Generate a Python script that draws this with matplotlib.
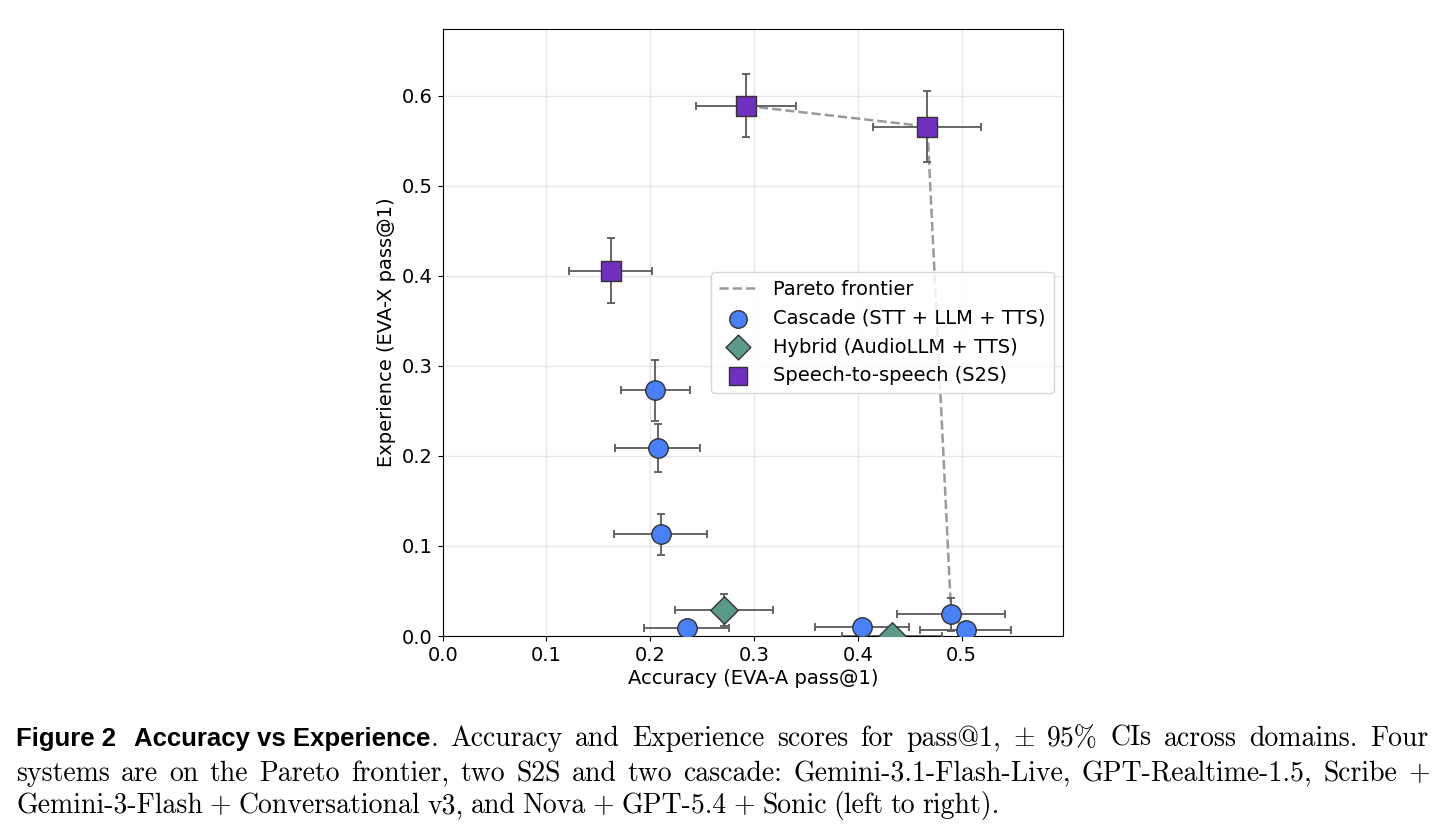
import matplotlib
matplotlib.use("Agg")
import matplotlib.pyplot as plt
from matplotlib.transforms import IdentityTransform

# ==========================================
# DATA
# ==========================================

cascade_x = [0.205, 0.207, 0.210, 0.235, 0.404, 0.490, 0.504]
cascade_y = [0.273, 0.209, 0.113, 0.009, 0.010, 0.024, 0.007]
cascade_xerr = [0.033, 0.041, 0.045, 0.041, 0.045, 0.052, 0.044]
cascade_yerr = [0.034, 0.027, 0.023, 0.008, 0.008, 0.018, 0.008]

hybrid_x = [0.271, 0.433]
hybrid_y = [0.029, 0.000]
hybrid_xerr = [0.047, 0.048]
hybrid_yerr = [0.018, 0.010]

s2s_x = [0.292, 0.467, 0.162]
s2s_y = [0.589, 0.566, 0.406]
s2s_xerr = [0.048, 0.052, 0.040]
s2s_yerr = [0.035, 0.039, 0.036]

pareto_x = [0.292, 0.467, 0.490, 0.504]
pareto_y = [0.589, 0.566, 0.024, 0.007]

# ==========================================
# FIGURE
# ==========================================

W, H = 1447, 832
FS = 14
fig = plt.figure(figsize=(W / 100, H / 100), dpi=100)
plt.rcParams["mathtext.fontset"] = "cm"

ax = fig.add_axes([442.7 / W, 1 - 636 / H, 620.6 / W, 606.7 / H])

ax.plot(pareto_x, pareto_y, linestyle="--", color="#9a9a9a", linewidth=1.8,
        label="Pareto frontier", zorder=2)

groups = [
    (cascade_x, cascade_y, cascade_xerr, cascade_yerr, "o", "#4a80f5",
     "Cascade (STT + LLM + TTS)"),
    (hybrid_x, hybrid_y, hybrid_xerr, hybrid_yerr, "D", "#5b9a8b",
     "Hybrid (AudioLLM + TTS)"),
    (s2s_x, s2s_y, s2s_xerr, s2s_yerr, "s", "#7030c0",
     "Speech-to-speech (S2S)"),
]

for gx, gy, gxe, gye, mk, col, lab in groups:
    ax.errorbar(gx, gy, xerr=gxe, yerr=gye, fmt="none", ecolor="#5a5a5a",
                elinewidth=1.3, capsize=3, capthick=1.3, zorder=3)
    ax.scatter(gx, gy, s=196, marker=mk, color=col, edgecolor="#333333",
               linewidth=1.0, label=lab, zorder=4)

ax.set_xlim(0, 0.598)
ax.set_ylim(0, 0.674)
ax.set_xticks([0.0, 0.1, 0.2, 0.3, 0.4, 0.5])
ax.set_yticks([0.0, 0.1, 0.2, 0.3, 0.4, 0.5, 0.6])
ax.tick_params(labelsize=FS)
ax.grid(True, color="#e6e6e6", linewidth=1.0)
ax.set_axisbelow(True)

ax.set_xlabel("Accuracy (EVA-A pass@1)", fontsize=FS, labelpad=3)
ax.set_ylabel("Experience (EVA-X pass@1)", fontsize=FS, labelpad=4)

ax.legend(loc="center right", fontsize=FS, framealpha=0.85,
          edgecolor="#d0d0d0", borderpad=0.4, markerscale=0.9)

# ==========================================
# CAPTION (justified like the paper)
# ==========================================

RM = dict(family=["cmr10", "DejaVu Serif"], fontsize=20, color="black")
BF = dict(family="Liberation Sans", weight="bold", fontsize=18.5, color="black")

renderer = fig.canvas.get_renderer()


def caption_line(words, y, x0, x1=None):
    # words: (text, style, attach_to_previous, extra_space_px)
    arts = []
    for txt, st, attach, extra in words:
        t = fig.text(0, H - y, txt, transform=IdentityTransform(),
                     va="baseline", ha="left", **st)
        arts.append((t, t.get_window_extent(renderer).width, attach, extra))
    total = sum(a[1] for a in arts) + sum(a[3] for a in arts)
    ngaps = sum(1 for a in arts[1:] if not a[2])
    if x1 is None:
        gap = 7
    else:
        gap = (x1 - x0 - total) / ngaps
    x = x0
    for i, (t, w, attach, extra) in enumerate(arts):
        if i > 0 and not attach:
            x += gap
        x += extra
        t.set_x(x)
        x += w


def words_of(text, st):
    return [(w, st, False, 0) for w in text.split(" ")]


line1 = ([("Figure 2", BF, False, 0), ("Accuracy vs Experience", BF, False, 6),
          (".", RM, True, 0)]
         + words_of("Accuracy and Experience scores for pass@1,", RM)
         + [(r"$\pm$", RM, False, 0)]
         + words_of("95% CIs across domains. Four", RM))
line2 = words_of("systems are on the Pareto frontier, two S2S and two cascade: "
                 "Gemini-3.1-Flash-Live, GPT-Realtime-1.5, Scribe +", RM)
line3 = words_of("Gemini-3-Flash + Conversational v3, and Nova + GPT-5.4 + "
                 "Sonic (left to right).", RM)

caption_line(line1, 746, 16, 1428)
caption_line(line2, 781, 16, 1430)
caption_line(line3, 813, 16)

fig.savefig("out.png", dpi=100)
